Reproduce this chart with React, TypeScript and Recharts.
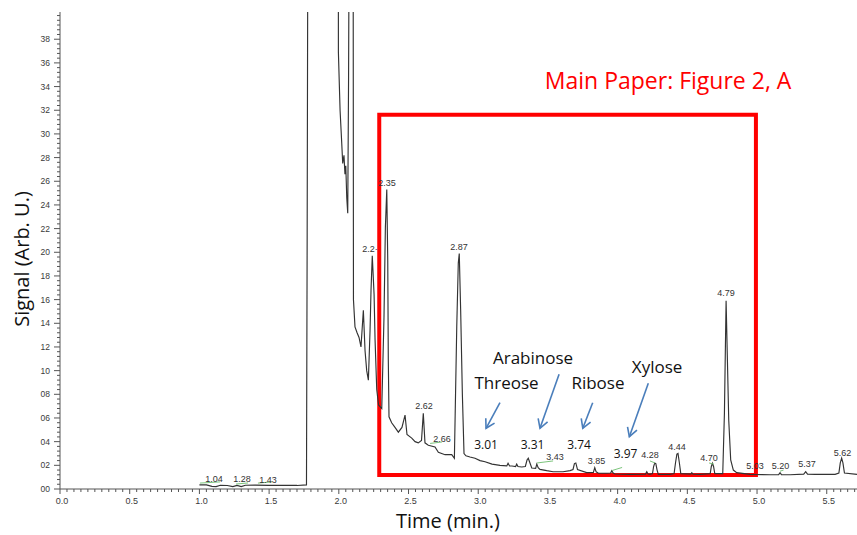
import React from 'react';
import { LineChart, Line, XAxis, YAxis, ReferenceArea, ReferenceDot, ReferenceLine } from 'recharts';

// ---- data ----
const times = [
  1.0, 1.05, 1.09, 1.12, 1.15, 1.2, 1.24, 1.27, 1.3, 1.33, 1.4, 1.5, 1.6, 1.7, 1.768, 1.773, 1.78,
  1.996, 1.997, 2.009, 2.021, 2.028, 2.037, 2.044, 2.05, 2.057, 2.064, 2.07, 2.078, 2.102, 2.105,
  2.116, 2.131, 2.145, 2.159, 2.176, 2.188, 2.2, 2.212, 2.224, 2.231, 2.24, 2.253, 2.26, 2.272,
  2.285, 2.308, 2.324, 2.334, 2.344, 2.351, 2.355, 2.36, 2.379, 2.403, 2.427, 2.453, 2.475, 2.489,
  2.523, 2.547, 2.57, 2.593, 2.606, 2.618, 2.642, 2.69, 2.714, 2.762, 2.81, 2.829, 2.846, 2.857,
  2.864, 2.874, 2.886, 2.898, 2.912, 2.941, 2.977, 3.013, 3.049, 3.099, 3.156, 3.205, 3.214, 3.225, 3.242,
  3.268, 3.276, 3.285, 3.312, 3.338, 3.35, 3.359, 3.368, 3.384, 3.412, 3.42, 3.43, 3.443, 3.491, 3.537,
  3.608, 3.659, 3.68, 3.69, 3.7, 3.712, 3.778, 3.826, 3.836, 3.846, 3.862, 3.922, 3.95, 3.958, 3.968,
  3.981, 4.089, 4.2, 4.209, 4.218, 4.232, 4.25, 4.258, 4.266, 4.274, 4.283, 4.292, 4.376, 4.405, 4.415,
  4.425, 4.433, 4.443, 4.453, 4.525, 4.532, 4.54, 4.591, 4.664, 4.672, 4.68, 4.688, 4.697, 4.754, 4.766,
  4.773, 4.778, 4.787, 4.797, 4.811, 4.83, 4.854, 4.95, 5.093, 5.155, 5.165, 5.175, 5.237, 5.335, 5.349,
  5.362, 5.416, 5.56, 5.587, 5.597, 5.607, 5.616, 5.627, 5.717,
];
const signal = [
  0.35, 0.35, 0.22, 0.2, 0.32, 0.3, 0.2, 0.3, 0.2, 0.32, 0.33, 0.3, 0.3, 0.3, 0.35, 21.6, 60,
  60, 36.9, 32.0, 29.2, 27.5, 28.2, 26.6, 27.3, 24.6, 23.3, 34.8, 60, 60, 16.0,
  13.7, 13.2, 12.8, 12.0, 15.1, 11.7, 10.0, 9.2, 13.4, 16.8, 19.7, 16.4, 12.6, 8.4,
  7.1, 6.8, 14.5, 22.1, 25.3, 19.3, 10.9, 6.1, 5.6, 5.2, 4.8, 5.2, 6.25, 4.6,
  4.3, 4.0, 3.9, 4.1, 6.4, 3.9, 3.7, 3.55, 3.1, 2.9, 2.9, 2.6, 13.7, 19.1,
  19.9, 15.1, 8.1, 3.0, 2.8, 2.7, 2.6, 2.4, 2.3, 2.1, 2.0, 1.95, 2.17, 1.95, 1.94,
  1.9, 2.1, 1.9, 1.86, 1.9, 2.45, 2.6, 2.3, 1.77, 1.75, 2.1, 1.8, 1.66, 1.55, 1.46,
  1.46, 1.55, 1.65, 2.15, 2.2, 1.65, 1.38, 1.4, 1.8, 1.45, 1.33, 1.33, 1.35, 1.55, 1.35,
  1.27, 1.24, 1.26, 1.46, 1.26, 1.24, 1.3, 1.9, 2.2, 2.15, 1.6, 1.24, 1.24, 1.3, 2.2,
  2.95, 3.0, 2.2, 1.3, 1.26, 1.38, 1.26, 1.24, 1.3, 1.9, 2.17, 1.9, 1.3, 1.3, 6.4,
  12.0, 15.9, 11.1, 5.8, 2.45, 1.6, 1.38, 1.24, 1.2, 1.22, 1.38, 1.22, 1.2, 1.26, 1.46,
  1.26, 1.24, 1.24, 1.35, 2.2, 2.6, 2.2, 1.35, 1.24,
];

const xMajor = [0, 0.5, 1.0, 1.5, 2.0, 2.5, 3.0, 3.5, 4.0, 4.5, 5.0, 5.5];
const xLabels = ['0.0', '0.5', '1.0', '1.5', '2.0', '2.5', '3.0', '3.5', '4.0', '4.5', '5.0', '5.5'];
const yMajor = [0, 2, 4, 6, 8, 10, 12, 14, 16, 18, 20, 22, 24, 26, 28, 30, 32, 34, 36, 38];
const yLabels = ['00', '02', '04', '06', '08', '10', '12', '14', '16', '18', '20', '22', '24', '26', '28', '30', '32', '34', '36', '38'];

// peak retention-time labels: [text, t, v]
const peakLabels: [string, number, number][] = [
  ['1.04', 1.105, 0.85], ['1.28', 1.306, 0.85], ['1.43', 1.492, 0.76],
  ['2.2\u00b7', 2.224, 20.28], ['2.35', 2.346, 25.85], ['2.87', 2.862, 20.45],
  ['2.62', 2.611, 7.01], ['2.66', 2.74, 4.22], ['3.43', 3.551, 2.73], ['3.85', 3.849, 2.39],
  ['4.28', 4.232, 2.87], ['4.44', 4.426, 3.57], ['4.70', 4.656, 2.59], ['4.79', 4.778, 16.53],
  ['5.03', 4.986, 1.94], ['5.20', 5.169, 1.94], ['5.37', 5.359, 2.11], ['5.62', 5.613, 3.07],
];
// sugar annotations: [text, t, v]
const sugarNames: [string, number, number][] = [
  ['Arabinose', 3.393, 11.15], ['Threose', 3.203, 8.96], ['Ribose', 3.859, 8.96], ['Xylose', 4.283, 10.39],
];
const sugarTimes: [string, number, number][] = [
  ['3.01', 3.056, 3.8], ['3.31', 3.39, 3.8], ['3.74', 3.723, 3.8], ['3.97', 4.057, 3.04],
];
// arrows: [t1, v1, t2, v2]
const arrows: [number, number, number, number][] = [
  [3.156, 7.29, 3.056, 5.13],
  [3.58, 9.69, 3.443, 5.13],
  [3.821, 7.29, 3.75, 5.13],
  [4.22, 8.93, 4.084, 4.42],
];
// small integration marks: [t1, v1, t2, v2]
const marks: [number, number, number, number][] = [
  [1.004, 0.5, 1.148, 0.6], [1.263, 0.42, 1.349, 0.51], [1.42, 0.5, 1.521, 0.6],
  [2.655, 3.85, 2.74, 3.97], [3.422, 2.2, 3.537, 2.37], [3.96, 1.56, 4.032, 1.82],
  [4.232, 2.37, 4.268, 2.2], [4.656, 2.2, 4.69, 2.1], [5.165, 1.5, 5.19, 1.6],
];
const box = { t1: 2.29, t2: 4.992, v1: 1.18, v2: 31.62 };
const title = { text: 'Main Paper: Figure 2, A', t: 4.362, v: 34.56 };

const X_MAX = 5.717;
const Y_MAX = 40.3;

const chartData = times.map((t, i) => ({ t, v: signal[i] }));
const xTicks: number[] = [];
for (let i = 0; i * 0.05 <= X_MAX + 1e-9; i++) xTicks.push(Math.round(i * 5) / 100);
const yTicks: number[] = [];
for (let i = 0; i <= 100; i++) yTicks.push(Math.round(i * 4) / 10);

const SMALL_FONT = '"Liberation Sans", Arial, sans-serif';
const BIG_FONT = '"Open Sans", sans-serif';

const XTick = (props: any) => {
  const { x, y, payload } = props;
  const idx = xMajor.findIndex((m) => Math.abs(m - payload.value) < 1e-6);
  const major = idx >= 0;
  return (
    <g>
      <line x1={x} x2={x} y1={y} y2={y + (major ? 5 : 3)} stroke="#555" strokeWidth={1} />
      {major && (
        <text x={x + 2} y={y + 15} textAnchor="middle" fontSize={9} fill="#3a3a3a" fontFamily={SMALL_FONT}>
          {xLabels[idx]}
        </text>
      )}
    </g>
  );
};

const YTick = (props: any) => {
  const { x, y, payload } = props;
  const idx = yMajor.findIndex((m) => Math.abs(m - payload.value) < 1e-6);
  const major = idx >= 0;
  return (
    <g>
      <line x1={x - (major ? 6 : 3)} x2={x} y1={y} y2={y} stroke="#555" strokeWidth={1} />
      {major && (
        <text x={x - 10} y={y + 3} textAnchor="end" fontSize={8.5} fill="#3a3a3a" fontFamily={SMALL_FONT}>
          {yLabels[idx]}
        </text>
      )}
    </g>
  );
};

const textShape = (label: string, size: number, color: string, family: string, rotate = 0) => (p: any) => (
  <text
    x={p.cx}
    y={p.cy}
    textAnchor="middle"
    dominantBaseline="central"
    fontSize={size}
    fill={color}
    fontFamily={family}
    transform={rotate ? `rotate(${rotate}, ${p.cx}, ${p.cy})` : undefined}
  >
    {label}
  </text>
);

const arrowShape = (p: any) => {
  const { x1, y1, x2, y2 } = p;
  const ang = Math.atan2(y2 - y1, x2 - x1);
  const L = 10;
  const a = Math.PI / 6;
  const ax1 = x2 - L * Math.cos(ang - a);
  const ay1 = y2 - L * Math.sin(ang - a);
  const ax2 = x2 - L * Math.cos(ang + a);
  const ay2 = y2 - L * Math.sin(ang + a);
  return (
    <g>
      <line x1={x1} y1={y1} x2={x2} y2={y2} stroke="#4a7ebb" strokeWidth={1.6} />
      <polyline points={`${ax1},${ay1} ${x2},${y2} ${ax2},${ay2}`} fill="none" stroke="#4a7ebb" strokeWidth={1.6} />
    </g>
  );
};

export default function App() {
  return (
    <div style={{ position: 'absolute', left: 0, top: 0, width: 857, height: 535, background: '#fff' }}>
      <LineChart width={857} height={535} data={chartData} margin={{ top: 12, right: 0, bottom: 0, left: 0 }}>
        <XAxis
          dataKey="t"
          type="number"
          domain={[0, X_MAX]}
          ticks={xTicks}
          interval={0}
          tick={XTick}
          tickLine={false}
          tickSize={0}
          tickMargin={0}
          height={46}
          axisLine={{ stroke: '#555', strokeWidth: 1 }}
          allowDataOverflow
        />
        <YAxis
          type="number"
          domain={[0, Y_MAX]}
          ticks={yTicks}
          interval={0}
          tick={YTick}
          tickLine={false}
          tickSize={0}
          tickMargin={0}
          width={60}
          axisLine={{ stroke: '#555', strokeWidth: 1 }}
          allowDataOverflow
        />
        <Line
          dataKey="v"
          type="linear"
          stroke="#333"
          strokeWidth={1.15}
          dot={false}
          activeDot={false}
          isAnimationActive={false}
        />
        {marks.map((m, i) => (
          <ReferenceLine
            key={'m' + i}
            segment={[{ x: m[0], y: m[1] }, { x: m[2], y: m[3] }]}
            stroke="#7cc47c"
            strokeWidth={1}
          />
        ))}
        {peakLabels.map(([s, t, v]) => (
          <ReferenceDot key={'p' + s} x={t} y={v} r={0} shape={textShape(s, 9, '#333', SMALL_FONT)} />
        ))}
        <ReferenceArea
          x1={box.t1}
          x2={box.t2}
          y1={box.v1}
          y2={box.v2}
          fill="none"
          fillOpacity={0}
          stroke="#ff0000"
          strokeWidth={4}
        />
        {sugarNames.map(([s, t, v]) => (
          <ReferenceDot key={'n' + s} x={t} y={v} r={0} shape={textShape(s, 17, '#111', BIG_FONT)} />
        ))}
        {sugarTimes.map(([s, t, v]) => (
          <ReferenceDot key={'s' + s} x={t} y={v} r={0} shape={textShape(s, 12, '#111', BIG_FONT)} />
        ))}
        {arrows.map((a, i) => (
          <ReferenceLine key={'a' + i} segment={[{ x: a[0], y: a[1] }, { x: a[2], y: a[3] }]} shape={arrowShape} />
        ))}
        <ReferenceDot x={title.t} y={title.v} r={0} shape={textShape(title.text, 23, '#ff0000', BIG_FONT)} />
        <ReferenceDot
          x={2.783}
          y={-2.7}
          r={0}
          ifOverflow="visible"
          shape={textShape('Time (min.)', 20, '#111', BIG_FONT)}
        />
        <ReferenceDot
          x={-0.2726}
          y={19.43}
          r={0}
          ifOverflow="visible"
          shape={textShape('Signal (Arb. U.)', 20, '#111', BIG_FONT, -90)}
        />
      </LineChart>
    </div>
  );
}
